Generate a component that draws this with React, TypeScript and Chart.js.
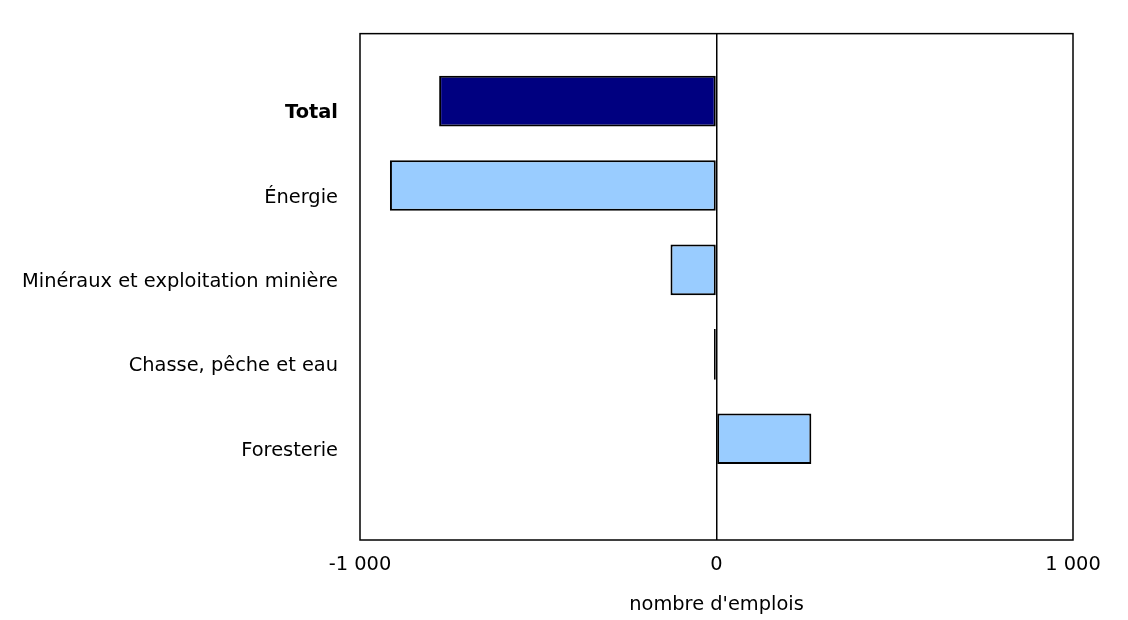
import { useEffect, useRef } from "react";
import { Chart, registerables } from "chart.js";

Chart.register(...registerables);

const CATEGORIES = [
  "Total",
  "Énergie",
  "Minéraux et exploitation minière",
  "Chasse, pêche et eau",
  "Foresterie",
];
const VALUES = [-778, -916, -129, -7, 266];
const X_TICKS = [-1000, 0, 1000];
const X_TITLE = "nombre d'emplois";

const FONT = "'DejaVu Sans', Verdana, sans-serif";
const SIZE = 19.4;

// full box around the plot area
const frame = {
  id: "frame",
  afterDraw(chart: Chart) {
    const { ctx, chartArea } = chart;
    ctx.save();
    ctx.strokeStyle = "#000";
    ctx.lineWidth = 1.5;
    ctx.strokeRect(chartArea.left, chartArea.top, chartArea.right - chartArea.left, chartArea.bottom - chartArea.top);
    ctx.restore();
  },
};

function fmt(v: number) {
  const s = Math.abs(v).toString().replace(/\B(?=(\d{3})+(?!\d))/g, " ");
  return (v < 0 ? "-" : "") + s;
}

export default function App() {
  const canvasRef = useRef<HTMLCanvasElement>(null);

  useEffect(() => {
    if (!canvasRef.current) return;
    const chart = new Chart(canvasRef.current, {
      type: "bar",
      data: {
        datasets: [
          {
            data: VALUES.map((v, i) => ({ x: v, y: i + 1 })),
            backgroundColor: (c: any) => (c.dataIndex === 0 ? "#000080" : "#99ccff"),
            borderColor: "#000",
            borderWidth: 2,
            borderSkipped: false,
            barPercentage: 0.6,
            categoryPercentage: 1,
          },
        ],
      },
      options: {
        indexAxis: "y",
        animation: false,
        responsive: true,
        maintainAspectRatio: false,
        layout: { padding: { left: 0, top: 33, right: 55, bottom: 0 } },
        plugins: { legend: { display: false }, tooltip: { enabled: false } },
        scales: {
          x: {
            type: "linear",
            min: -1000,
            max: 1000,
            afterBuildTicks: (s: any) => {
              s.ticks = X_TICKS.map((v) => ({ value: v }));
            },
            ticks: {
              callback: (v: any) => fmt(Number(v)),
              color: "#000",
              font: { family: FONT, size: SIZE },
              padding: 13,
              maxRotation: 0,
            },
            grid: {
              drawTicks: false,
              color: (c: any) => (c.tick && c.tick.value === 0 ? "#000" : "transparent"),
              lineWidth: 1.5,
            },
            border: { display: false },
            title: {
              display: true,
              text: X_TITLE,
              color: "#000",
              font: { family: FONT, size: SIZE },
              padding: { top: 14, bottom: 3 },
            },
            afterFit: (s: any) => {
              s.height = 80;
            },
          },
          y: {
            type: "linear",
            reverse: true,
            offset: false,
            min: 0.2,
            max: 6.2,
            afterBuildTicks: (s: any) => {
              s.ticks = CATEGORIES.map((_, i) => ({ value: i + 1 }));
            },
            ticks: {
              callback: (v: any) => CATEGORIES[Number(v) - 1] ?? "",
              color: "#000",
              font: (c: any) => ({
                family: FONT,
                size: SIZE,
                weight: c.tick && c.tick.value === 1 ? "bold" : "normal",
              }),
              padding: 22,
              labelOffset: 12,
            },
            grid: { display: false, drawTicks: false },
            border: { display: false },
            afterFit: (s: any) => {
              s.width = 360;
            },
          },
        },
      },
      plugins: [frame],
    } as any);
    return () => chart.destroy();
  }, []);

  return (
    <div style={{ position: "fixed", left: 0, top: 0, width: 1128, height: 620, background: "#fff" }}>
      <canvas ref={canvasRef} />
    </div>
  );
}
